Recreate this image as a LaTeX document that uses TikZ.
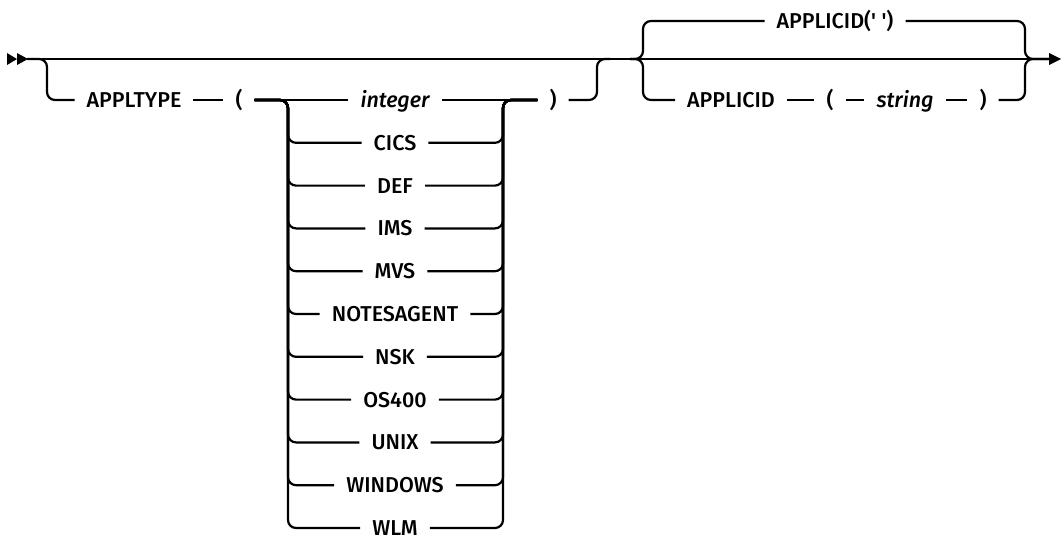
\documentclass[tikz,border=0pt]{standalone}
\usepackage{fontspec}
\setmainfont{Liberation Sans}
\newfontfamily\lblfont{Fira Sans}[UprightFont=* Medium,ItalicFont=* Medium Italic]
\begin{document}
\begin{tikzpicture}[x=1pt,y=-1pt,line width=2.2pt,
  lbl/.style={inner xsep=11pt,inner ysep=0pt,text height=14.8pt,text depth=0pt,font=\lblfont\fontsize{21.5}{24}\selectfont},
  itl/.style={lbl,font=\lblfont\fontsize{21.5}{24}\selectfont\itshape},
  rr/.style={rounded corners=8pt}]
\useasboundingbox (0,0) rectangle (1061,546);
% ends
\coordinate (start) at (27,59);
\coordinate (fin) at (1050,59);
\draw (start) -- (fin);
\fill (7,53) -- (17,59) -- (7,65) -- cycle;
\fill (17,53) -- (28,59) -- (17,65) -- cycle;
\fill (1049,53) -- (1061,59) -- (1049,65) -- cycle;
% optional APPLTYPE group
\node[lbl] (appltype) at (134,100) {APPLTYPE};
\node[lbl] (lp) at (239,100) {(};
\node[lbl] (rp) at (553,100) {)};
\draw[rr] (start) -- (47,59) -- (47,100) -- (appltype.west);
\draw (appltype.east) -- (lp.west);
\node[itl] (r0) at (395,100) {integer};
\foreach \i/\t in {1/CICS,2/DEF,3/IMS,4/MVS,5/NOTESAGENT,6/NSK,7/OS400,8/UNIX,9/WINDOWS,10/WLM}{
  \pgfmathsetmacro\yy{100+\i*42.8}
  \node[lbl] (r\i) at (395,\yy) {\t};
  \draw[rr] (lp.east) -- (288,100) -- (288,\yy) -- (r\i.west);
  \draw[rr] (r\i.east) -- (503,\yy) -- (503,100) -- (rp.west);
}
\draw (lp.east) -- (r0.west);
\draw (r0.east) -- (rp.west);
\draw[rr] (rp.east) -- (597,100) -- (597,59) -- (610,59);
% APPLICID group
\node[lbl] (def) at (835,21) {APPLICID(\textquotesingle\ \textquotesingle)};
\node[lbl] (ai) at (731,100) {APPLICID};
\node[lbl] (lp2) at (830,100) {(};
\node[itl] (str) at (905,100) {string};
\node[lbl] (rp2) at (983,100) {)};
\draw[rr] (630,59) -- (643,59) -- (643,21) -- (def.west);
\draw[rr] (def.east) -- (1025,21) -- (1025,59) -- (fin);
\draw[rr] (630,59) -- (643,59) -- (643,100) -- (ai.west);
\draw (ai.east) -- (lp2.west);
\draw (lp2.east) -- (str.west);
\draw (str.east) -- (rp2.west);
\draw[rr] (rp2.east) -- (1025,100) -- (1025,59) -- (fin);
\end{tikzpicture}
\end{document}
